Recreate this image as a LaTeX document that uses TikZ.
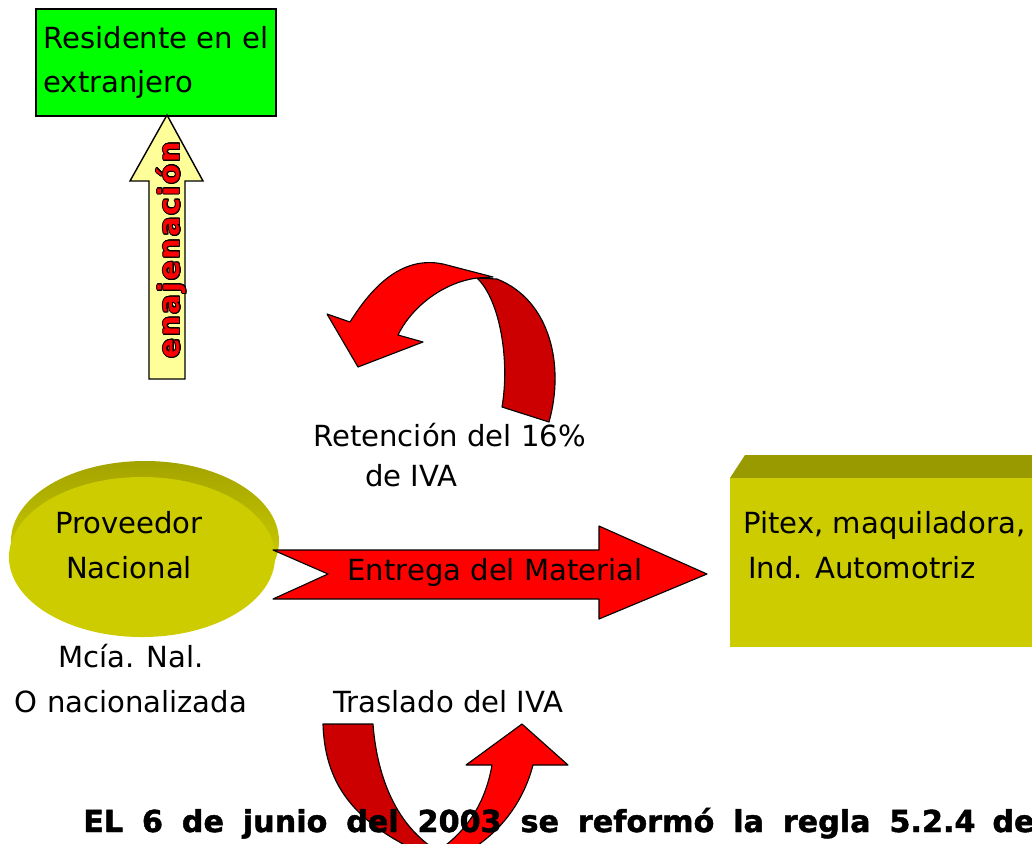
\documentclass[tikz,border=0pt]{standalone}
\usepackage{fontspec}
\setmainfont{DejaVu Sans}
\usepackage{contour}
\usetikzlibrary{shapes.geometric}
\contourlength{0.7pt}
\definecolor{boxgreen}{RGB}{0,255,0}
\definecolor{paleyellow}{RGB}{255,255,153}
\definecolor{olivefront}{RGB}{204,204,0}
\definecolor{olivetop}{RGB}{153,153,0}
\definecolor{darkred}{RGB}{204,0,0}
\tikzset{
    txt/.style={font=\fontsize{20.7}{31.3}\selectfont, inner sep=0pt},
    redarrow/.style={draw=black, line width=0.8pt, fill=red, line join=round},
    backarrow/.style={draw=black, line width=0.8pt, fill=darkred, line join=round}
}
\begin{document}
\begin{tikzpicture}
    \begin{scope}[x={(0.025cm,0cm)},y={(0cm,-0.025cm)}]
        \useasboundingbox (0,0) rectangle (1032,843);
        \clip (0,0) rectangle (1032,843);
        % residente en el extranjero
        \node[txt, draw, line width=1.4pt, fill=boxgreen, anchor=north west, align=left,
            minimum width=6cm, minimum height=2.675cm] (resid) at (35,8)
            {Residente en el\\extranjero};
        \draw[fill=paleyellow, line width=1pt] (149,379) -- (149,181) -- (130,181) -- (167,115)
            -- (203,181) -- (185,181) -- (185,379) -- cycle;
        \node[rotate=90, inner sep=0pt, font=\fontsize{20.5}{24}\selectfont\bfseries\addfontfeature{LetterSpace=7}]
            (enaj) at (172,250) {\contour{black}{\textcolor{red}{enajenación}}};
        % retencion
        \draw[backarrow] (549,422) .. controls (565,365) and (550,300) .. (497,279)
            -- (477,278) .. controls (500,300) and (510,360) .. (502,407) -- cycle;
        \draw[redarrow] (493,277) -- (443,264) .. controls (400,255) and (370,290) .. (350,322)
            -- (327,314) -- (358,367) -- (423,342) -- (398,335)
            .. controls (410,310) and (440,283) .. (477,278) -- cycle;
        \node[txt, anchor=base west, align=left, font=\fontsize{20.7}{28}\selectfont] (reten) at (313,486)
            {Retención del 16\%\\\hspace*{37pt}de IVA};
        % proveedor
        \shade[top color=olivetop!80!olivefront, bottom color=olivefront!60!yellow] (145,541) ellipse[x radius=134, y radius=80];
        \node[ellipse, fill=olivefront, minimum width=6.65cm, minimum height=4cm] (prov) at (142,557) {};
        \node[txt, anchor=base, align=center] (provtxt) at (129,578) {Proveedor\\Nacional};
        \node[txt, anchor=base, align=center] (mcia) at (131,712) {Mcía. Nal.\\O nacionalizada};
        % entrega
        \draw[redarrow] (273,550) -- (599,550) -- (599,526) -- (707,574) -- (599,619)
            -- (599,599) -- (273,599) -- (328,574) -- cycle;
        \node[txt, anchor=base] (entrega) at (495,580) {Entrega del Material};
        % pitex
        \fill[olivetop] (730,478) -- (745,455) -- (1040,455) -- (1040,478) -- cycle;
        \node[fill=olivefront, anchor=north west, minimum width=7.75cm, minimum height=4.225cm,
            inner sep=0pt] (pitex) at (730,478) {};
        \node[txt, anchor=base west, align=left] (pitextxt) at (743,578)
            {Pitex, maquiladora,\\\hspace*{3.5pt}Ind. Automotriz};
        % traslado
        \node[txt, anchor=base west] (trasl) at (333,712) {Traslado del IVA};
        \draw[backarrow] (323,724) -- (373,724) .. controls (378,790) and (405,835) .. (445,855)
            -- (425,855) .. controls (360,825) and (325,790) .. cycle;
        \draw[redarrow] (430,856) .. controls (465,835) and (485,805) .. (492,765)
            -- (466,765) -- (522,724) -- (568,765) -- (533,765)
            .. controls (520,815) and (485,845) .. (455,858) -- cycle;
        \node[anchor=base west, inner sep=0pt, font=\fontsize{21.5}{26}\selectfont\bfseries\addfontfeature{FakeBold=1.5}] (regla) at (83,832)
            {\hbox to 634.5pt{EL\hfil 6\hfil de\hfil junio\hfil del\hfil 2003\hfil se\hfil reformó\hfil la\hfil regla\hfil 5.2.4}\hspace{12pt}de};
    \end{scope}
\end{tikzpicture}
\end{document}
